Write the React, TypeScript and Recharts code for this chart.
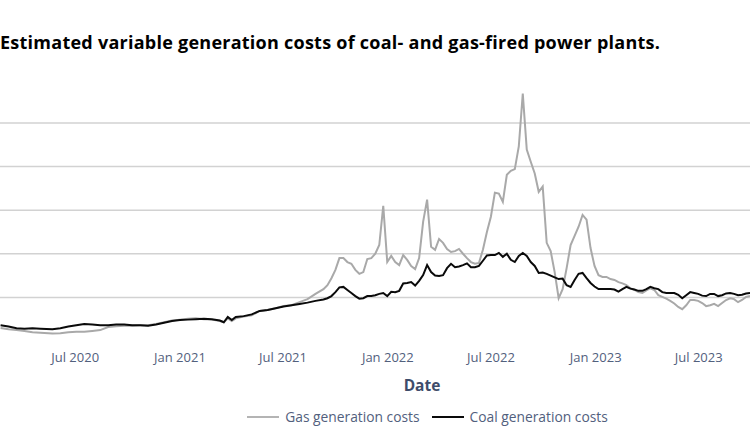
import React from "react";
import { LineChart, Line, XAxis, YAxis, ReferenceLine } from "recharts";

const dates = [
  "2020-02-21", "2020-03-06", "2020-03-20", "2020-04-03", "2020-04-17", "2020-05-01", "2020-05-22", "2020-06-05",
  "2020-06-19", "2020-07-03", "2020-07-17", "2020-07-31", "2020-08-14", "2020-08-28", "2020-09-11", "2020-09-25",
  "2020-10-09", "2020-10-23", "2020-11-06", "2020-11-20", "2020-12-04", "2020-12-18", "2021-01-01", "2021-01-15",
  "2021-01-29", "2021-02-12", "2021-02-26", "2021-03-12", "2021-03-19", "2021-03-26", "2021-04-02", "2021-04-09",
  "2021-04-23", "2021-05-07", "2021-05-21", "2021-06-04", "2021-06-18", "2021-07-02", "2021-07-16", "2021-07-30",
  "2021-08-13", "2021-08-27", "2021-09-10", "2021-09-17", "2021-09-24", "2021-10-01", "2021-10-08", "2021-10-15",
  "2021-10-22", "2021-10-29", "2021-11-05", "2021-11-12", "2021-11-19", "2021-11-26", "2021-12-03", "2021-12-10",
  "2021-12-17", "2021-12-24", "2021-12-31", "2022-01-07", "2022-01-14", "2022-01-21", "2022-01-28", "2022-02-04",
  "2022-02-11", "2022-02-18", "2022-02-25", "2022-03-04", "2022-03-11", "2022-03-18", "2022-03-25", "2022-04-01",
  "2022-04-08", "2022-04-15", "2022-04-22", "2022-04-29", "2022-05-06", "2022-05-13", "2022-05-20", "2022-05-27",
  "2022-06-03", "2022-06-10", "2022-06-17", "2022-06-24", "2022-07-01", "2022-07-08", "2022-07-15", "2022-07-22",
  "2022-07-29", "2022-08-05", "2022-08-12", "2022-08-19", "2022-08-26", "2022-09-02", "2022-09-09", "2022-09-16",
  "2022-09-23", "2022-09-30", "2022-10-07", "2022-10-14", "2022-10-21", "2022-10-28", "2022-11-04", "2022-11-11",
  "2022-11-18", "2022-11-25", "2022-12-02", "2022-12-09", "2022-12-16", "2022-12-23", "2022-12-30", "2023-01-06",
  "2023-01-13", "2023-01-20", "2023-01-27", "2023-02-03", "2023-02-10", "2023-02-17", "2023-02-24", "2023-03-03",
  "2023-03-10", "2023-03-17", "2023-03-24", "2023-03-31", "2023-04-07", "2023-04-14", "2023-04-21", "2023-04-28",
  "2023-05-05", "2023-05-12", "2023-05-19", "2023-05-26", "2023-06-02", "2023-06-09", "2023-06-16", "2023-06-23",
  "2023-06-30", "2023-07-07", "2023-07-14", "2023-07-21", "2023-07-28", "2023-08-04", "2023-08-11", "2023-08-18",
  "2023-08-25", "2023-09-01", "2023-09-08", "2023-09-15", "2023-09-22", "2023-09-29",
];

const gasCosts = [
  30, 27, 25, 23, 20, 19, 17, 18, 20, 21, 21, 23, 25, 32, 34, 35,
  35, 36, 36, 39, 43, 47, 49, 51, 52, 50, 49, 46, 43, 52, 46, 52,
  56, 59, 69, 71, 75, 80, 82, 89, 96, 108, 119, 128, 144, 163, 190, 190,
  181, 177, 163, 154, 158, 188, 190, 200, 220, 310, 181, 195, 181, 174, 197, 186,
  172, 165, 190, 273, 324, 216, 209, 234, 225, 211, 204, 206, 211, 200, 190, 181,
  177, 179, 209, 250, 285, 340, 338, 319, 381, 390, 394, 446, 567, 439, 411, 384,
  342, 354, 225, 206, 158, 98, 119, 167, 220, 241, 262, 289, 278, 213, 172, 151,
  147, 147, 142, 140, 135, 132, 128, 121, 117, 112, 110, 116, 121, 117, 105, 101,
  97, 92, 86, 78, 73, 82, 94, 94, 92, 87, 80, 82, 85, 80, 87, 94,
  98, 96, 89, 94, 101, 103,
];

const coalCosts = [
  36, 33, 29, 28, 29, 28, 27, 29, 33, 36, 39, 38, 36, 36, 38, 38,
  36, 36, 35, 38, 42, 46, 48, 49, 50, 51, 50, 47, 43, 55, 48, 55,
  57, 61, 69, 71, 75, 79, 82, 85, 88, 92, 95, 98, 103, 112, 123, 124,
  117, 110, 103, 97, 98, 103, 103, 105, 108, 110, 103, 113, 112, 115, 132, 133,
  135, 127, 138, 151, 174, 158, 150, 149, 151, 167, 177, 169, 171, 174, 178, 169,
  169, 172, 184, 196, 197, 197, 202, 193, 200, 186, 181, 195, 202, 195, 181, 172,
  156, 157, 154, 150, 146, 142, 143, 128, 124, 140, 154, 156, 144, 133, 125, 119,
  119, 119, 119, 118, 113, 119, 124, 120, 118, 115, 115, 119, 124, 121, 119, 112,
  110, 110, 110, 106, 98, 105, 112, 110, 108, 104, 103, 108, 108, 103, 105, 109,
  110, 108, 105, 106, 109, 110,
];

const tickDates = ["2020-07-01", "2021-01-01", "2021-07-01", "2022-01-01", "2022-07-01", "2023-01-01", "2023-07-01"];
const gridValues = [100, 200, 300, 400, 500];
const MONTHS = ["Jan", "Feb", "Mar", "Apr", "May", "Jun", "Jul", "Aug", "Sep", "Oct", "Nov", "Dec"];

const GAS_COLOR = "#a9a9a9";
const COAL_COLOR = "#0a0a0a";
const AXIS_TEXT = "#52607d";
const FONT = "'Open Sans', 'Noto Sans', sans-serif";

const chartData = dates.map((d, i) => ({
  t: Date.parse(d),
  gas: gasCosts[i],
  coal: coalCosts[i],
}));

const formatTick = (t: number) => {
  const d = new Date(t);
  return `${MONTHS[d.getUTCMonth()]} ${d.getUTCFullYear()}`;
};

export default function App() {
  return (
    <div
      style={{
        position: "absolute",
        left: 0,
        top: 0,
        width: 750,
        height: 445,
        overflow: "hidden",
        background: "#fff",
        fontFamily: FONT,
      }}
    >
      {/* Title */}
      <div
        style={{
          position: "absolute",
          left: 0,
          top: 30,
          whiteSpace: "nowrap",
          fontSize: 18,
          letterSpacing: 0.25,
          fontWeight: 700,
          color: "#000",
          lineHeight: "24px",
        }}
      >
        Estimated variable generation costs of coal- and gas-fired power plants.
      </div>

      <LineChart
        width={750}
        height={445}
        data={chartData}
        margin={{ top: 88, right: 0, bottom: 74, left: 0 }}
        style={{ position: "absolute", left: 0, top: 0 }}
      >
        <XAxis
          dataKey="t"
          type="number"
          scale="time"
          domain={[Date.parse("2020-02-20"), Date.parse("2023-09-28")]}
          ticks={tickDates.map((d) => Date.parse(d))}
          tickFormatter={formatTick}
          axisLine={false}
          tickLine={false}
          tickMargin={6}
          height={30}
          tick={{ fill: AXIS_TEXT, fontSize: 13, fontFamily: FONT }}
        />
        <YAxis hide domain={[0, 580]} ticks={gridValues} />
        {gridValues.map((v) => (
          <ReferenceLine key={v} y={v} stroke="#d2d2d2" strokeWidth={1.5} />
        ))}
        <Line
          type="linear"
          dataKey="gas"
          stroke={GAS_COLOR}
          strokeWidth={2}
          dot={false}
          isAnimationActive={false}
        />
        <Line
          type="linear"
          dataKey="coal"
          stroke={COAL_COLOR}
          strokeWidth={2}
          dot={false}
          isAnimationActive={false}
        />
      </LineChart>

      {/* Axis title */}
      <div
        style={{
          position: "absolute",
          left: 322,
          width: 200,
          top: 374,
          textAlign: "center",
          fontSize: 15.5,
          fontWeight: 700,
          color: "#3e4c6a",
        }}
      >
        Date
      </div>

      {/* Legend */}
      <div
        style={{
          position: "absolute",
          left: 0,
          width: 855,
          top: 407,
          display: "flex",
          justifyContent: "center",
          alignItems: "center",
          fontSize: 13.8,
          color: AXIS_TEXT,
          whiteSpace: "nowrap",
        }}
      >
        <span style={{ display: "inline-block", width: 32, height: 2, background: "#b4b4b4", marginRight: 6 }} />
        <span style={{ marginRight: 12 }}>Gas generation costs</span>
        <span style={{ display: "inline-block", width: 32, height: 2, background: COAL_COLOR, marginRight: 6 }} />
        <span>Coal generation costs</span>
      </div>
    </div>
  );
}
